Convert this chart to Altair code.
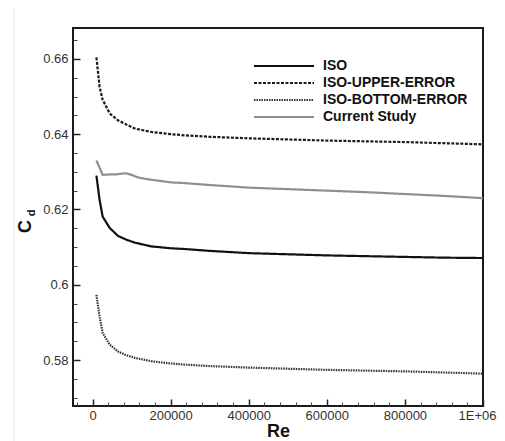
import altair as alt
import pandas as pd

# ---------------- data ----------------
re_iso = [10000, 18000, 26000, 44000, 65000, 86000, 108000, 150000, 200000,
          236000, 300000, 400000, 500000, 600000, 700000, 800000, 900000, 1000000]
cd_iso = [0.6290, 0.6226, 0.6181, 0.6151, 0.6130, 0.6120, 0.6112, 0.6102, 0.6097,
          0.6095, 0.6090, 0.6084, 0.6081, 0.6078, 0.6076, 0.6074, 0.6072, 0.6071]
cd_upper = [0.6604, 0.6526, 0.6491, 0.6455, 0.6437, 0.6426, 0.6415, 0.6406, 0.6400,
            0.6397, 0.6393, 0.6389, 0.6386, 0.6383, 0.6381, 0.6379, 0.6376, 0.6373]
cd_bottom = [0.5973, 0.5916, 0.5872, 0.5841, 0.5823, 0.5813, 0.5806, 0.5797, 0.5791,
             0.5788, 0.5784, 0.5780, 0.5777, 0.5774, 0.5772, 0.5770, 0.5767, 0.5764]
re_cur = [10000, 26000, 44000, 60000, 74000, 86000, 100000, 116000, 150000, 200000,
          236000, 300000, 400000, 500000, 600000, 700000, 800000, 900000, 1000000]
cd_cur = [0.6330, 0.6292, 0.6293, 0.6293, 0.6295, 0.6296, 0.6292, 0.6285, 0.6279, 0.6272,
          0.6270, 0.6265, 0.6258, 0.6254, 0.6250, 0.6246, 0.6241, 0.6236, 0.6230]

series_names = ["ISO", "ISO-UPPER-ERROR", "ISO-BOTTOM-ERROR", "Current Study"]
series_colors = ["#111111", "#1a1a1a", "#333333", "#8f8f8f"]
series_dash = [[1, 0], [3, 1.5], [1.5, 1], [1, 0]]
series_width = [2.2, 2.2, 2.0, 2.0]

x_major = [0, 200000, 400000, 600000, 800000, 1000000]
x_minor = [-40000, 40000, 80000, 120000, 160000, 240000, 280000, 320000, 360000,
           440000, 480000, 520000, 560000, 640000, 680000, 720000, 760000,
           840000, 880000, 920000, 960000]
y_major = [0.58, 0.6, 0.62, 0.64, 0.66]
y_minor = [0.57, 0.575, 0.585, 0.59, 0.595, 0.605, 0.61, 0.615, 0.625, 0.63,
           0.635, 0.645, 0.65, 0.655, 0.665]

# ---------------- table ----------------
rows = []
for r, c in zip(re_iso, cd_iso):
    rows.append({"Re": r, "Cd": c, "series": "ISO"})
for r, c in zip(re_iso, cd_upper):
    rows.append({"Re": r, "Cd": c, "series": "ISO-UPPER-ERROR"})
for r, c in zip(re_iso, cd_bottom):
    rows.append({"Re": r, "Cd": c, "series": "ISO-BOTTOM-ERROR"})
for r, c in zip(re_cur, cd_cur):
    rows.append({"Re": r, "Cd": c, "series": "Current Study"})
df = pd.DataFrame(rows)

FONT = "Liberation Sans"
W, H = 410, 378

xscale = alt.Scale(domain=[-50000, 1000000], nice=False, zero=False)
yscale = alt.Scale(domain=[0.5678, 0.6682], nice=False, zero=False)

x_axis_major = alt.Axis(values=x_major, orient="bottom", offset=-7, tickSize=7, tickWidth=1.5,
                        tickColor="#222222", domain=False, grid=False, labelPadding=3,
                        labelFont=FONT, labelFontSize=13, labelColor="#333333",
                        labelFlush=True, labelFlushOffset=13, labelOverlap=False,
                        labelExpr="datum.value >= 1000000 ? '1E+06' : format(datum.value, 'd')",
                        title="Re", titleFont=FONT, titleFontSize=18, titleFontWeight="bold",
                        titleColor="#111111", titleX=205, titleY=37, titleBaseline="alphabetic",
                        titleAlign="center")
y_axis_major = alt.Axis(values=y_major, orient="left", offset=-7, tickSize=7, tickWidth=1.5,
                        tickColor="#222222", domain=False, grid=False, labelPadding=5,
                        labelFont=FONT, labelFontSize=13, labelColor="#333333",
                        labelOverlap=False, format=".2~f",
                        title="C", titleFont=FONT, titleFontSize=18, titleFontWeight="bold",
                        titleColor="#111111", titleX=-55, titleY=198, titleAngle=270,
                        titleAlign="center", titleBaseline="middle")

x_axis_minor = alt.Axis(values=x_minor, orient="bottom", offset=-4, tickSize=4, tickWidth=1,
                        tickColor="#444444", domain=False, grid=False, labels=False, title=None)
y_axis_minor = alt.Axis(values=y_minor, orient="left", offset=-4, tickSize=4, tickWidth=1,
                        tickColor="#444444", domain=False, grid=False, labels=False, title=None)

legend = alt.Legend(orient="none", legendX=202, legendY=29, title=None,
                    symbolType="M-4,0H4", symbolSize=225, labelOffset=30,
                    labelFont=FONT, labelFontSize=14, labelFontWeight="bold",
                    labelColor="#111111", rowPadding=1, padding=0)

lines = alt.Chart(df).mark_line(clip=True).encode(
    x=alt.X("Re:Q", scale=xscale, axis=x_axis_major),
    y=alt.Y("Cd:Q", scale=yscale, axis=y_axis_major),
    color=alt.Color("series:N", scale=alt.Scale(domain=series_names, range=series_colors),
                    legend=legend),
    strokeDash=alt.StrokeDash("series:N", scale=alt.Scale(domain=series_names, range=series_dash),
                              legend=legend),
    strokeWidth=alt.StrokeWidth("series:N", scale=alt.Scale(domain=series_names, range=series_width),
                                legend=legend),
    detail="series:N",
)

minor = alt.Chart(df).mark_line(opacity=0).encode(
    x=alt.X("Re:Q", scale=xscale, axis=x_axis_minor),
    y=alt.Y("Cd:Q", scale=yscale, axis=y_axis_minor),
    detail="series:N",
)

sub_d = alt.Chart(pd.DataFrame({"t": ["d"]})).mark_text(
    angle=270, font=FONT, fontSize=11, fontWeight="bold", color="#111111"
).encode(text="t:N", x=alt.value(-41), y=alt.value(185))

border = alt.Chart(pd.DataFrame({"t": ["b"]})).mark_rect(
    fillOpacity=0, stroke="#e4e4e4", strokeWidth=1
).encode(x=alt.value(-59), y=alt.value(-21), x2=alt.value(600), y2=alt.value(600))

chart = alt.layer(border, lines, minor, sub_d).resolve_axis(
    x="independent", y="independent"
).properties(
    width=W, height=H,
    background="white",
    autosize=alt.AutoSizeParams(type="none"),
    padding={"left": 65, "top": 20, "right": 14, "bottom": 35},
).configure_view(
    stroke="#1a1a1a", strokeWidth=2
)

chart.save("out.html", embed_options={"renderer": "svg", "actions": False})
